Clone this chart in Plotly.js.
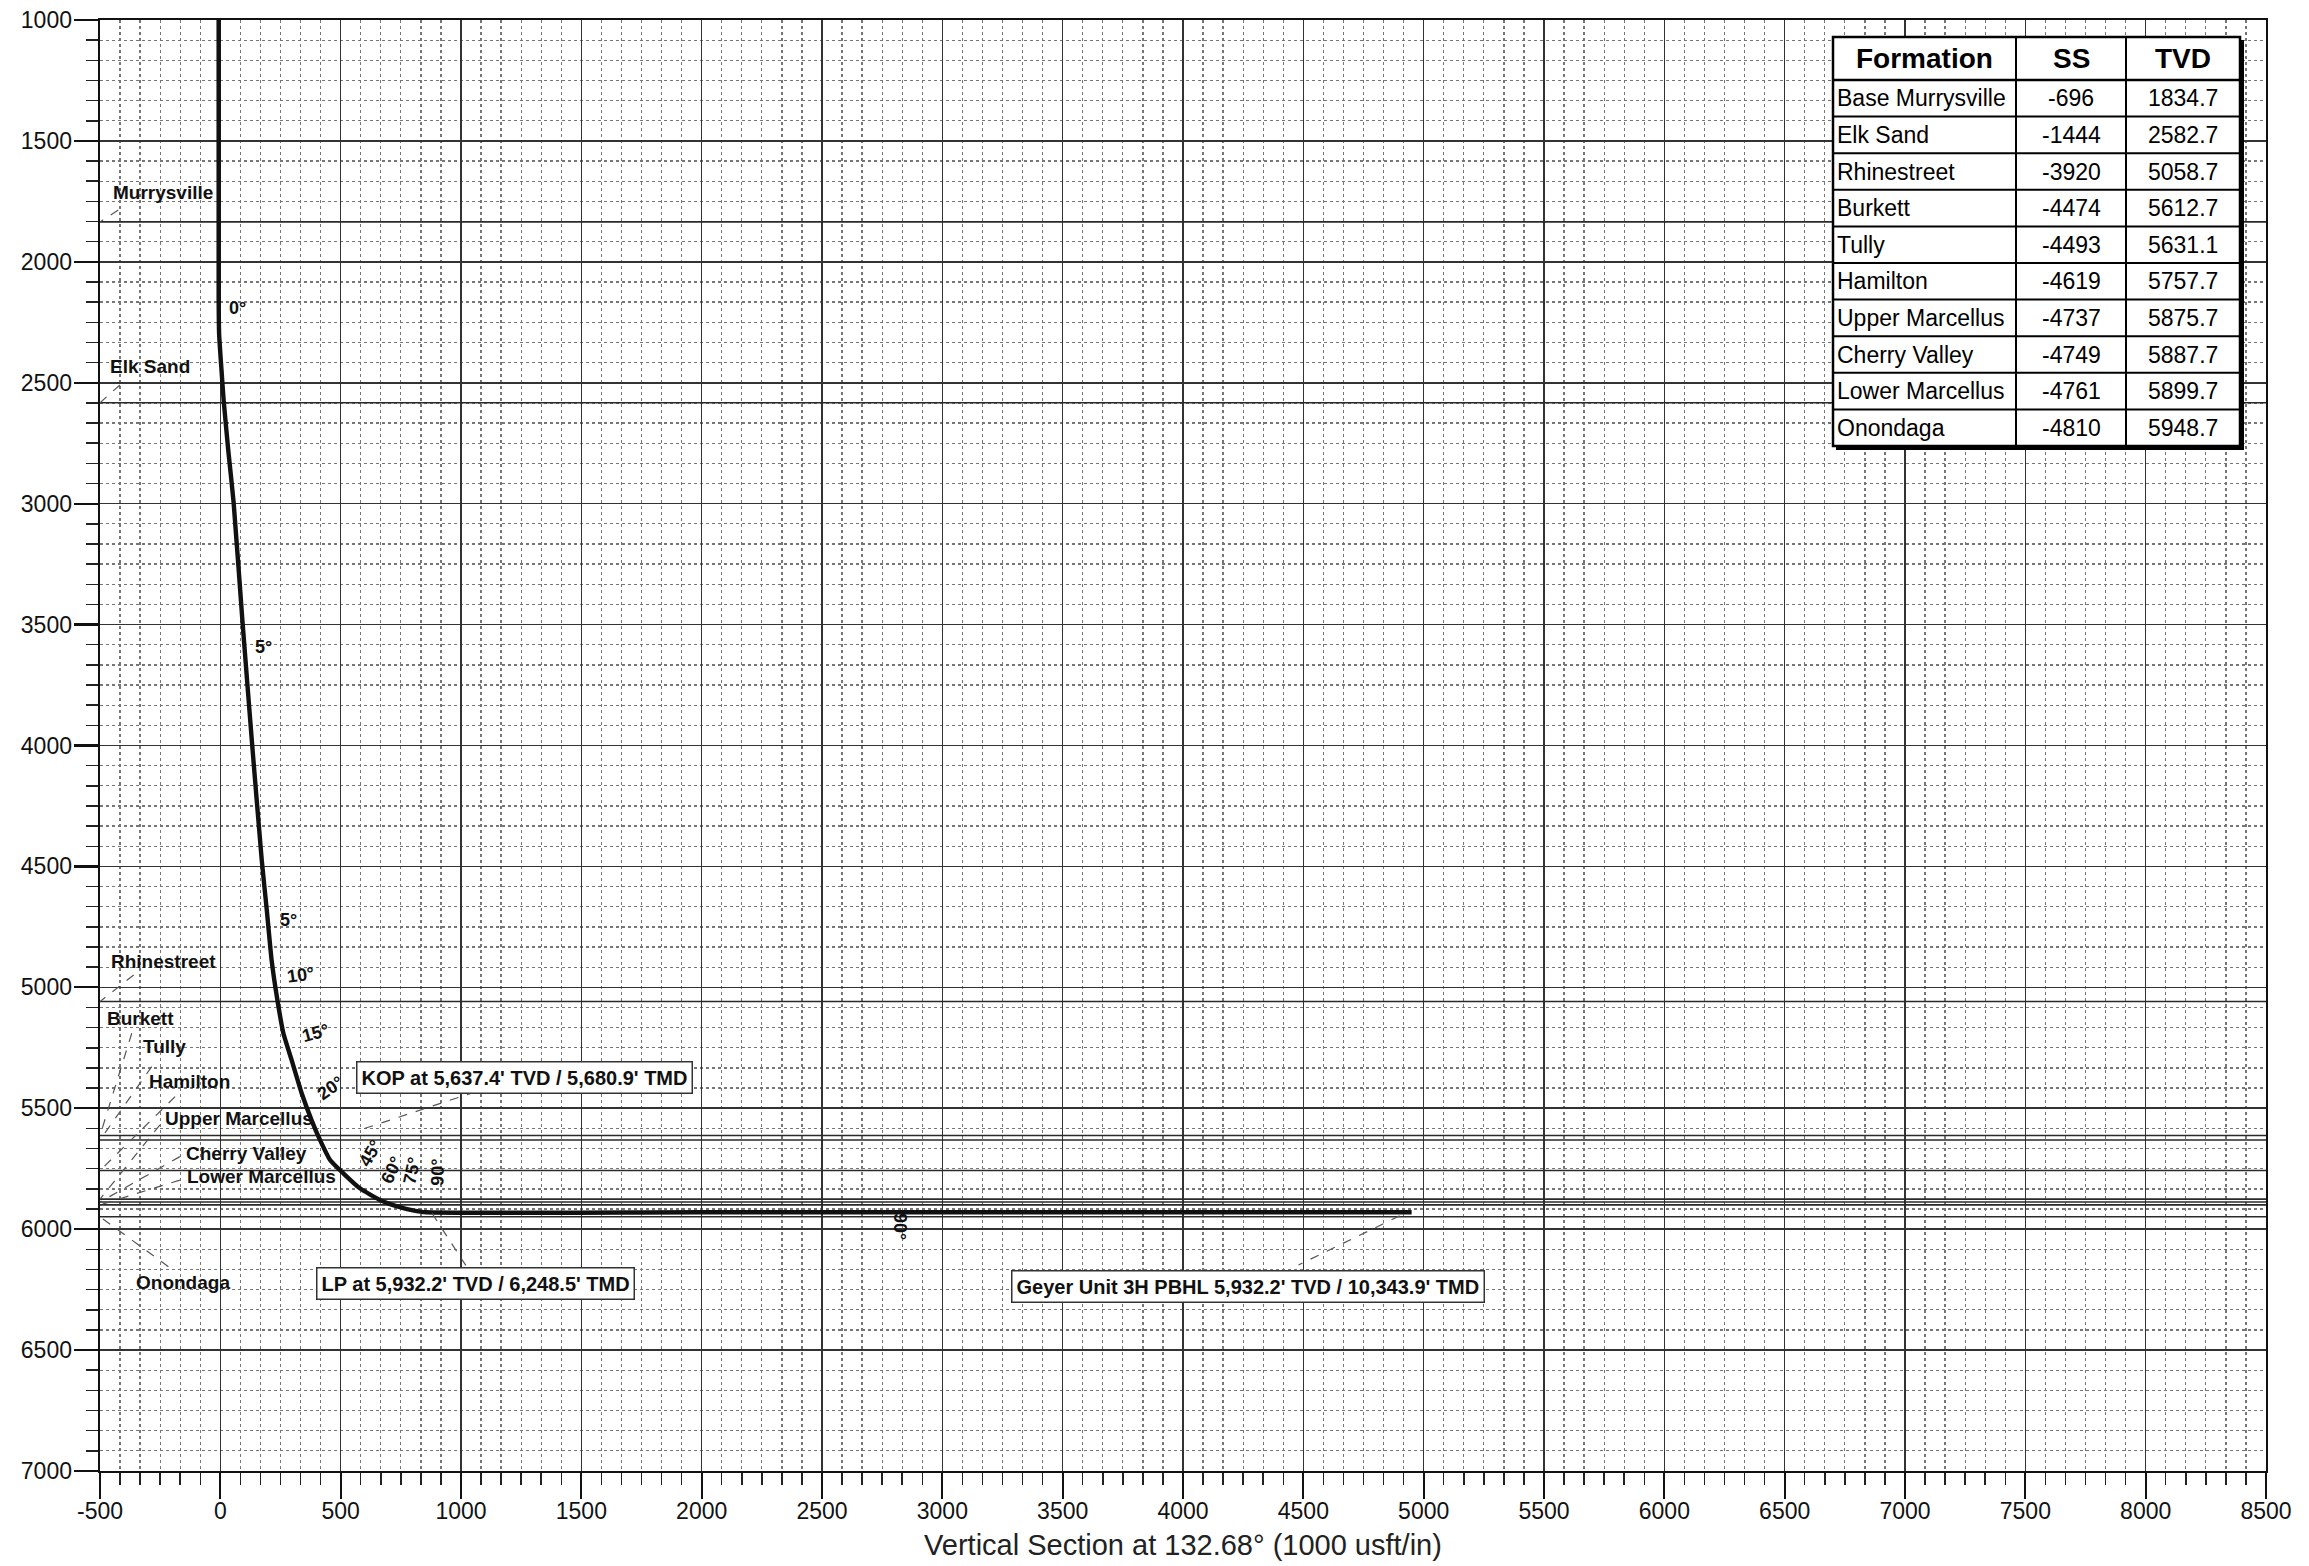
<!DOCTYPE html>
<html>
<head>
<meta charset="utf-8">
<script src="https://cdn.plot.ly/plotly-3.0.1.min.js"></script>
<style>
  html, body { margin: 0; padding: 0; background: #ffffff; }
  #chart { width: 2309px; height: 1566px; }
</style>
</head>
<body>
<div id="chart"></div>
<script>
// ---------------- DATA ----------------
const formations = ['Base Murrysville', 'Elk Sand', 'Rhinestreet', 'Burkett', 'Tully', 'Hamilton',
                    'Upper Marcellus', 'Cherry Valley', 'Lower Marcellus', 'Onondaga'];
const chartLabels = ['Murrysville', 'Elk Sand', 'Rhinestreet', 'Burkett', 'Tully', 'Hamilton',
                     'Upper Marcellus', 'Cherry Valley', 'Lower Marcellus', 'Onondaga'];
const ssValues  = [-696, -1444, -3920, -4474, -4493, -4619, -4737, -4749, -4761, -4810];
const tvdValues = [1834.7, 2582.7, 5058.7, 5612.7, 5631.1, 5757.7, 5875.7, 5887.7, 5899.7, 5948.7];

// well path: vertical section (usft) vs TVD (usft)
const pathVS  = [-7, -7, -5, 5, 14, 33, 55, 92, 131, 172, 193, 213, 237, 262, 296, 338, 379, 414, 456, 511, 580, 663, 746, 800, 855, 2000, 4950];
const pathTVD = [1000, 2150, 2300, 2450, 2575, 2780, 2993, 3487, 3981, 4473, 4680, 4887, 5052, 5190, 5300, 5438, 5549, 5631, 5714, 5769, 5831, 5879, 5909, 5922, 5930, 5930, 5930];

const xTickVals = [-500, 0, 500, 1000, 1500, 2000, 2500, 3000, 3500, 4000, 4500, 5000, 5500, 6000, 6500, 7000, 7500, 8000, 8500];
const xTickText = ['-500', '0', '500', '1000', '1500', '2000', '2500', '3000', '3500', '4000', '4500', '5000', '5500', '6000', '6500', '7000', '7500', '8000', '8500'];
const yTickVals = [1000, 1500, 2000, 2500, 3000, 3500, 4000, 4500, 5000, 5500, 6000, 6500, 7000];
const yTickText = ['1000', '1500', '2000', '2500', '3000', '3500', '4000', '4500', '5000', '5500', '6000', '6500', '7000'];

const angleTexts = ['0°', '5°', '5°', '10°', '15°', '20°', '45°', '60°', '75°', '90°', '90°'];
const noteTexts = ["KOP at 5,637.4' TVD / 5,680.9' TMD",
                   "LP at 5,932.2' TVD / 6,248.5' TMD",
                   "Geyer Unit 3H PBHL 5,932.2' TVD / 10,343.9' TMD"];
const xTitle = 'Vertical Section at 132.68° (1000 usft/in)';

// ---------------- LAYOUT HELPERS (positions / styles) ----------------
const FONT = 'Liberation Sans, Arial, Helvetica, sans-serif';
const PL = 100, PR = 2266, PT = 20, PB = 1471;
const xp = px => (px - PL) / (PR - PL);
const yp = py => (PB - py) / (PB - PT);

const labelPos  = [[-452, 1714], [-463, 2434], [-458, 4894], [-475, 5128], [-327, 5245], [-299, 5390],
                   [-234, 5541], [-147, 5689], [-143, 5783], [-355, 6221]];
const leaderPos = [[-424, 1786], [-417, 2509], [-360, 4949], [-368, 5190], [-285, 5328], [-188, 5452],
                   [-251, 5569], [-168, 5700], [-168, 5797], [-216, 6155]];
const anglePos  = [[73, 2191, 0], [179, 3591, 0], [282, 4721, 0], [334, 4949, -8], [396, 5190, -15],
                   [458, 5417, -35], [625, 5686, -60], [712, 5755, -65], [795, 5758, -78], [901, 5766, -88],
                   [2827, 5990, 90]];
const notePos   = [[1262, 5371], [1062, 6224], [4270, 6239]];
const noteLeaders = [[[1060, 5432], [580, 5590]], [[880, 5935], [1020, 6150]], [[4900, 5945], [4480, 6148]]];

// ---------------- TRACES ----------------
const fx = [], fy = [];
tvdValues.forEach(t => { fx.push(-500, 8500, null); fy.push(t, t, null); });

const traces = [
  { type: 'scatter', mode: 'lines', x: fx, y: fy, hoverinfo: 'skip',
    line: { color: '#2a2a2a', width: 1.6 }, showlegend: false },
  { type: 'scatter', mode: 'lines', x: pathVS, y: pathTVD, hoverinfo: 'skip',
    line: { color: '#111111', width: 4.4, shape: 'spline', smoothing: 0.5 }, showlegend: false }
];

// ---------------- SHAPES ----------------
const shapes = [];
leaderPos.forEach((p, i) => {
  shapes.push({ type: 'line', xref: 'x', yref: 'y', x0: p[0], y0: p[1], x1: -500, y1: tvdValues[i],
                line: { color: '#555', width: 1.2, dash: 'dash' }, layer: 'above' });
});
noteLeaders.forEach(l => {
  shapes.push({ type: 'line', xref: 'x', yref: 'y', x0: l[0][0], y0: l[0][1], x1: l[1][0], y1: l[1][1],
                line: { color: '#555', width: 1.2, dash: 'dash' }, layer: 'above' });
});

const TL = 1833, TR = 2240, TT = 37, TH = 80, RH = 36.6;
const TB = TH + RH * formations.length;
const C1 = 2016, C2 = 2126;
shapes.push({ type: 'rect', xref: 'paper', yref: 'paper', x0: xp(TL), x1: xp(TR), y0: yp(TB), y1: yp(TT),
              fillcolor: '#ffffff', line: { color: '#000', width: 2.5 }, layer: 'above' });
shapes.push({ type: 'line', xref: 'paper', yref: 'paper', x0: xp(TR + 2), x1: xp(TR + 2), y0: yp(TB + 3), y1: yp(TT + 3),
              line: { color: '#000', width: 4 }, layer: 'above' });
shapes.push({ type: 'line', xref: 'paper', yref: 'paper', x0: xp(TL + 3), x1: xp(TR + 4), y0: yp(TB + 2), y1: yp(TB + 2),
              line: { color: '#000', width: 4 }, layer: 'above' });
shapes.push({ type: 'line', xref: 'paper', yref: 'paper', x0: xp(TL), x1: xp(TR), y0: yp(TH), y1: yp(TH),
              line: { color: '#000', width: 2.5 }, layer: 'above' });
for (let k = 1; k < formations.length; k++) {
  const yy = TH + RH * k;
  shapes.push({ type: 'line', xref: 'paper', yref: 'paper', x0: xp(TL), x1: xp(TR), y0: yp(yy), y1: yp(yy),
                line: { color: '#000', width: 2 }, layer: 'above' });
}
[C1, C2].forEach(c => shapes.push({ type: 'line', xref: 'paper', yref: 'paper', x0: xp(c), x1: xp(c), y0: yp(TB), y1: yp(TT),
                                   line: { color: '#000', width: 2 }, layer: 'above' }));

// ---------------- ANNOTATIONS ----------------
const annotations = [];
chartLabels.forEach((t, i) => {
  annotations.push({ xref: 'x', yref: 'y', x: labelPos[i][0], y: labelPos[i][1], text: t, showarrow: false,
                     xanchor: 'left', yanchor: 'middle', borderpad: 0,
                     font: { family: FONT, size: 19, color: '#111', weight: 'bold' } });
});
angleTexts.forEach((t, i) => {
  annotations.push({ xref: 'x', yref: 'y', x: anglePos[i][0], y: anglePos[i][1], text: t, showarrow: false,
                     textangle: anglePos[i][2], xanchor: 'center', yanchor: 'middle', borderpad: 0,
                     font: { family: FONT, size: 18, color: '#111', weight: 'bold' } });
});
noteTexts.forEach((t, i) => {
  annotations.push({ xref: 'x', yref: 'y', x: notePos[i][0], y: notePos[i][1], text: t, showarrow: false,
                     xanchor: 'center', yanchor: 'middle', bgcolor: '#ffffff', bordercolor: '#333',
                     borderwidth: 1.5, borderpad: 4,
                     font: { family: FONT, size: 20, color: '#111', weight: 'bold' } });
});
[['Formation', (TL + C1) / 2], ['SS', (C1 + C2) / 2], ['TVD', (C2 + TR) / 2]].forEach(h => {
  annotations.push({ xref: 'paper', yref: 'paper', x: xp(h[1]), y: yp((TT + TH) / 2), text: h[0], showarrow: false,
                     xanchor: 'center', yanchor: 'middle', borderpad: 0,
                     font: { family: FONT, size: 28, color: '#000', weight: 'bold' } });
});
formations.forEach((f, i) => {
  const yy = yp(TH + RH * (i + 0.5));
  annotations.push({ xref: 'paper', yref: 'paper', x: xp(TL + 3), y: yy, text: f, showarrow: false,
                     xanchor: 'left', yanchor: 'middle', borderpad: 0,
                     font: { family: FONT, size: 23, color: '#000' } });
  annotations.push({ xref: 'paper', yref: 'paper', x: xp((C1 + C2) / 2), y: yy, text: String(ssValues[i]), showarrow: false,
                     xanchor: 'center', yanchor: 'middle', borderpad: 0,
                     font: { family: FONT, size: 23, color: '#000' } });
  annotations.push({ xref: 'paper', yref: 'paper', x: xp((C2 + TR) / 2), y: yy, text: tvdValues[i].toFixed(1), showarrow: false,
                     xanchor: 'center', yanchor: 'middle', borderpad: 0,
                     font: { family: FONT, size: 23, color: '#000' } });
});

// ---------------- AXES ----------------
// six grid cells per 500 usft, as on the plotted sheet; minor positions skip the major ones
function cellPositions(lo, hi) {
  const out = [];
  const n = Math.round((hi - lo) / 500) * 6;
  for (let k = 1; k < n; k++) if (k % 6 !== 0) out.push(lo + k * 500 / 6);
  return out;
}
const minorCfg = (lo, hi) => ({ tickmode: 'array', tickvals: cellPositions(lo, hi), showgrid: true, gridcolor: '#767676',
                   griddash: 'dot', gridwidth: 1.3, ticks: 'outside', ticklen: 12, tickwidth: 1.5, tickcolor: '#222' });

const layout = {
  width: 2309, height: 1566,
  margin: { l: PL, r: 2309 - PR, t: PT, b: 1566 - PB },
  paper_bgcolor: '#ffffff', plot_bgcolor: '#ffffff',
  font: { family: FONT, color: '#111' },
  showlegend: false,
  xaxis: {
    range: [-500, 8500], tickmode: 'array', tickvals: xTickVals, ticktext: xTickText,
    ticks: 'outside', ticklen: 26, tickwidth: 2.2, tickcolor: '#111', ticklabelstandoff: -8,
    tickfont: { family: FONT, size: 23, color: '#111' },
    showgrid: true, gridcolor: '#333333', gridwidth: 1.6, zeroline: false,
    showline: true, mirror: true, linecolor: '#111', linewidth: 2,
    minor: minorCfg(-500, 8500), automargin: false,
    title: { text: xTitle, font: { family: FONT, size: 29, color: '#222' }, standoff: 12 }
  },
  yaxis: {
    range: [7000, 1000], tickmode: 'array', tickvals: yTickVals, ticktext: yTickText,
    ticks: 'outside', ticklen: 24, tickwidth: 2.2, tickcolor: '#111', ticklabelstandoff: -3,
    tickfont: { family: FONT, size: 23, color: '#111' },
    showgrid: true, gridcolor: '#333333', gridwidth: 1.6, zeroline: false,
    showline: true, mirror: true, linecolor: '#111', linewidth: 2.4,
    minor: minorCfg(1000, 7000), automargin: false
  },
  shapes: shapes,
  annotations: annotations
};

Plotly.newPlot('chart', traces, layout, { staticPlot: true, displayModeBar: false });
</script>
</body>
</html>
